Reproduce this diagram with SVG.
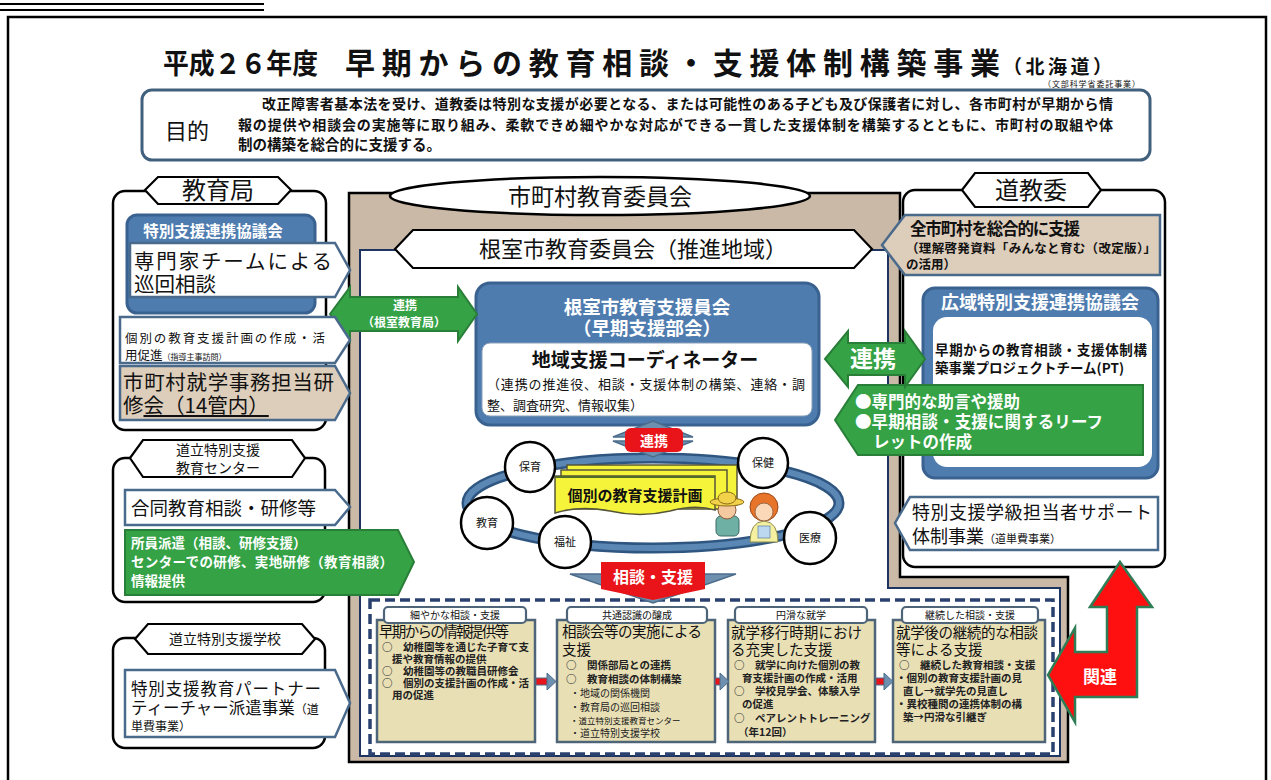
<svg xmlns="http://www.w3.org/2000/svg" width="1271" height="780" viewBox="0 0 1271 780">
<defs>
<style>
text { font-family: "Noto Sans CJK JP", "Noto Sans", sans-serif; fill: #111; }
.b { font-weight: 700; }
.w { fill: #fff; }
.c { text-anchor: middle; }
.box { fill: #fff; stroke: #000; stroke-width: 2.5; }
.tab { fill: #fff; stroke: #000; stroke-width: 2.2; }
.pent { fill: #fff; stroke: #4a6a8c; stroke-width: 2.5; }
.pent-tan { fill: #ddcdbb; stroke: #4a6a8c; stroke-width: 2.5; }
.blue { fill: #4f7caf; stroke: #3a6290; stroke-width: 3; }
.green { fill: #35a246; stroke: #2a7f38; stroke-width: 2; }
.circ { fill: #fff; stroke: #000; stroke-width: 2.5; }
.step { fill: #e8dfb5; stroke: #4d6479; stroke-width: 2.5; }
.steptab { fill: #fff; stroke: #4d6479; stroke-width: 2.2; }
.doc { fill: #f6f43a; stroke: #55553a; stroke-width: 1.5; }
.item { font-size: 10.5px; font-weight: 700; fill: #222; }
.sub { font-size: 10px; fill: #222; }
.steel { fill: #6e8fae; stroke: #4d6d8c; stroke-width: 1.5; }
.red { fill: #e8141a; }
</style>
</defs>

<!-- page frame -->
<g id="page">
  <rect x="0" y="0" width="1271" height="780" fill="#fff"/>
  <line x1="0" y1="4" x2="264" y2="4" stroke="#000" stroke-width="2"/>
  <line x1="0" y1="10" x2="264" y2="10" stroke="#000" stroke-width="2"/>
  <rect x="8" y="17" width="1258" height="790" fill="none" stroke="#000" stroke-width="2.5"/>
</g>

<!-- heading -->
<g id="title">
  <text x="163" y="74" class="b" font-size="28" textLength="155" lengthAdjust="spacingAndGlyphs">平成２６年度</text>
  <text x="345" y="74" class="b" font-size="30" textLength="655" lengthAdjust="spacing">早期からの教育相談・支援体制構築事業</text>
  <text x="1003" y="74" class="b" font-size="19" textLength="109" lengthAdjust="spacing">（北海道）</text>
  <text x="1043" y="87" font-size="8" textLength="97" lengthAdjust="spacing">（文部科学省委託事業）</text>
</g>

<!-- purpose -->
<g id="purpose">
  <rect x="142" y="90" width="1008" height="70" rx="10" fill="#fff" stroke="#41607e" stroke-width="3"/>
  <text x="165" y="139" font-size="22">目的</text>
  <text x="262" y="109" class="b" font-size="14" textLength="851" lengthAdjust="spacing">改正障害者基本法を受け、道教委は特別な支援が必要となる、または可能性のある子ども及び保護者に対し、各市町村が早期から情</text>
  <text x="238" y="130" class="b" font-size="14" textLength="875" lengthAdjust="spacing">報の提供や相談会の実施等に取り組み、柔軟できめ細やかな対応ができる一貫した支援体制を構築するとともに、市町村の取組や体</text>
  <text x="238" y="150" class="b" font-size="14.5">制の構築を総合的に支援する。</text>
</g>

<!-- municipal boards of education (centre frame) -->
<g id="municipal-board">
  <path d="M349,193 H900 V577 H1068 V762 H349 Z" fill="#c9b9a6" stroke="#000" stroke-width="2.5"/>
  <path d="M360,250 H888 V588 H1060 V756 H360 Z" fill="#fff" stroke="#1d3560" stroke-width="2"/>
  <ellipse cx="600" cy="196" rx="210" ry="19" fill="#fff" stroke="#000" stroke-width="2.5"/>
  <text x="600" y="205" class="c" font-size="23">市町村教育委員会</text>
  <polygon points="395,249 413,230 854,230 872,249 854,268 413,268" class="tab"/>
  <text x="633" y="257" class="c" font-size="22">根室市教育委員会（推進地域）</text>
</g>

<!-- Nemuro support committee -->
<g id="nemuro-committee">
  <rect x="476" y="283" width="343" height="142" rx="14" class="blue"/>
  <text x="647" y="314" class="c b w" font-size="18.5">根室市教育支援員会</text>
  <text x="647" y="335" class="c b w" font-size="18.5">（早期支援部会）</text>
  <rect x="482" y="343" width="330" height="73" rx="8" fill="#fff" stroke="#8aa0b8" stroke-width="1"/>
  <text x="645" y="367" class="c b" font-size="19">地域支援コーディネーター</text>
  <text x="487" y="389" font-size="13" textLength="318" lengthAdjust="spacing">（連携の推進役、相談・支援体制の構築、連絡・調</text>
  <text x="487" y="410" font-size="13">整、調査研究、情報収集）</text>
</g>

<!-- network around the individual plan -->
<g id="support-network">
  <ellipse cx="653" cy="503" rx="186" ry="45" fill="none" stroke="#2f5680" stroke-width="11"/>
  <ellipse cx="653" cy="503" rx="186" ry="45" fill="none" stroke="#5b87b5" stroke-width="6"/>
  <rect x="567" y="465" width="170" height="40" class="doc"/>
  <rect x="561" y="470" width="166" height="39" class="doc"/>
  <path d="M555,476 H715 V510 Q695,504 670,511 Q640,518 610,511 Q580,505 555,513 Z" class="doc"/>
  <line x1="555" y1="477" x2="715" y2="477" stroke="#4f6a2a" stroke-width="2"/>
  <text x="635" y="501" class="c b" font-size="15">個別の教育支援計画</text>
  <circle cx="530" cy="467" r="25" class="circ"/>
  <text x="530" y="471" class="c" font-size="11">保育</text>
  <circle cx="763" cy="463" r="25" class="circ"/>
  <text x="763" y="467" class="c" font-size="11">保健</text>
  <circle cx="487" cy="523" r="26" class="circ"/>
  <text x="487" y="527" class="c" font-size="11">教育</text>
  <circle cx="565" cy="542" r="26" class="circ"/>
  <text x="565" y="546" class="c" font-size="11">福祉</text>
  <circle cx="810" cy="538" r="26" class="circ"/>
  <text x="810" y="542" class="c" font-size="11">医療</text>
  <!-- child -->
  <rect x="716" y="516" width="23" height="20" rx="5" fill="#6fb0a4" stroke="#3d6b66" stroke-width="1"/>
  <circle cx="727" cy="510" r="9" fill="#f5c9a0" stroke="#8a5a3a" stroke-width="1"/>
  <ellipse cx="727" cy="502" rx="17" ry="4" fill="#f2d24a" stroke="#8a6a1a" stroke-width="1"/>
  <ellipse cx="727" cy="498" rx="9" ry="6" fill="#f2d24a" stroke="#8a6a1a" stroke-width="1"/>
  <!-- carer -->
  <circle cx="764" cy="507" r="14" fill="#e8742a" stroke="#9a4a1a" stroke-width="1"/>
  <path d="M750,542 Q750,522 764,521 Q778,522 778,542 Z" fill="#f4f0a0" stroke="#8a8a4a" stroke-width="1"/>
  <rect x="758" y="526" width="12" height="12" fill="#bcd8f0" stroke="#6a8aa8" stroke-width="0.8"/>
  <circle cx="764" cy="512" r="9" fill="#fbd8b8" stroke="#9a6a4a" stroke-width="1"/>
</g>

<!-- flow of support stages -->
<g id="support-stages">
  <rect x="370" y="600" width="683" height="154" fill="none" stroke="#2a4170" stroke-width="3.5" stroke-dasharray="10 5"/>

  <rect x="377" y="620" width="158" height="122" class="step"/>
  <rect x="384" y="607" width="142" height="16" rx="4" class="steptab"/>
  <text x="455" y="619" class="c" font-size="10">細やかな相談・支援</text>
  <text x="379" y="637" font-size="14.5" textLength="130" lengthAdjust="spacing">早期からの情報提供等</text>
  <text x="382" y="651" class="item">○　幼稚園等を通じた子育て支</text>
  <text x="392" y="663" class="item">援や教育情報の提供</text>
  <text x="382" y="675" class="item">○　幼稚園等の教職員研修会</text>
  <text x="382" y="687" class="item">○　個別の支援計画の作成・活</text>
  <text x="392" y="699" class="item">用の促進</text>

  <rect x="557" y="620" width="158" height="122" class="step"/>
  <rect x="567" y="607" width="140" height="16" rx="4" class="steptab"/>
  <text x="637" y="619" class="c" font-size="10">共通認識の醸成</text>
  <text x="562" y="637" font-size="14.5" textLength="140" lengthAdjust="spacing">相談会等の実施による</text>
  <text x="562" y="655" font-size="14.5">支援</text>
  <text x="566" y="669" class="item">○　関係部局との連携</text>
  <text x="566" y="683" class="item">○　教育相談の体制構築</text>
  <text x="570" y="697" class="sub">・地域の関係機関</text>
  <text x="570" y="711" class="sub">・教育局の巡回相談</text>
  <text x="570" y="724" font-size="8.5" fill="#222">・道立特別支援教育センター</text>
  <text x="570" y="737" class="sub">・道立特別支援学校</text>

  <rect x="728" y="620" width="147" height="122" class="step"/>
  <rect x="735" y="607" width="132" height="16" rx="4" class="steptab"/>
  <text x="801" y="619" class="c" font-size="10">円滑な就学</text>
  <text x="731" y="638" font-size="14.5" textLength="131" lengthAdjust="spacing">就学移行時期におけ</text>
  <text x="731" y="655" font-size="14.5">る充実した支援</text>
  <text x="734" y="669" class="item">○　就学に向けた個別の教</text>
  <text x="742" y="682" class="item">育支援計画の作成・活用</text>
  <text x="734" y="695" class="item">○　学校見学会、体験入学</text>
  <text x="742" y="708" class="item">の促進</text>
  <text x="734" y="722" class="item">○　ペアレントトレーニング</text>
  <text x="738" y="736" class="item">（年12回）</text>

  <rect x="893" y="620" width="152" height="122" class="step"/>
  <rect x="902" y="607" width="136" height="16" rx="4" class="steptab"/>
  <text x="970" y="619" class="c" font-size="10">継続した相談・支援</text>
  <text x="896" y="638" font-size="14.5" textLength="142" lengthAdjust="spacing">就学後の継続的な相談</text>
  <text x="896" y="655" font-size="14.5">等による支援</text>
  <text x="899" y="669" class="item">○　継続した教育相談・支援</text>
  <text x="896" y="682" class="item">・個別の教育支援計画の見</text>
  <text x="903" y="695" class="item">直し→就学先の見直し</text>
  <text x="896" y="708" class="item">・異校種間の連携体制の構</text>
  <text x="903" y="721" class="item">築→円滑な引継ぎ</text>
</g>

<!-- prefectural board of education -->
<g id="prefectural-board">
  <rect x="903" y="190" width="262" height="377" rx="12" class="box"/>
  <polygon points="962,190 975,173 1088,173 1101,190 1088,207 975,207" class="tab"/>
  <text x="1031" y="199" class="c" font-size="24">道教委</text>
  <polygon points="882,245 905,215 1160,215 1160,275 905,275" class="pent-tan"/>
  <text x="910" y="235" class="b" font-size="16.5" textLength="170" lengthAdjust="spacing">全市町村を総合的に支援</text>
  <text x="906" y="253" class="b" font-size="12.5" textLength="250" lengthAdjust="spacing">（理解啓発資料「みんなと育む（改定版）」</text>
  <text x="906" y="269" class="b" font-size="12.5">の活用）</text>
  <rect x="923" y="288" width="235" height="190" rx="12" class="blue"/>
  <text x="1040" y="309" class="c b w" font-size="18">広域特別支援連携協議会</text>
  <rect x="933" y="317" width="219" height="150" rx="14" fill="#fff"/>
  <text x="935" y="355" class="b" font-size="13.5" textLength="212" lengthAdjust="spacing">早期からの教育相談・支援体制構</text>
  <text x="935" y="373" class="b" font-size="13.5">築事業プロジェクトチーム(PT)</text>
  <polygon points="895,523 910,497 1158,497 1158,550 910,550" class="pent"/>
  <text x="912" y="519" font-size="18" textLength="240" lengthAdjust="spacing">特別支援学級担当者サポート</text>
  <text x="912" y="543" font-size="18">体制事業<tspan font-size="11">（道単費事業）</tspan></text>
</g>

<!-- advice from the project team -->
<g id="pt-advice">
  <polygon points="835,420 858,385 1143,385 1143,455 858,455" class="green"/>
  <text x="855" y="408" class="b w" font-size="16.5">●専門的な助言や援助</text>
  <text x="855" y="428" class="b w" font-size="16.5" textLength="248" lengthAdjust="spacing">●早期相談・支援に関するリーフ</text>
  <text x="873" y="448" class="b w" font-size="16.5">レットの作成</text>
</g>

<!-- connectors -->
<g id="connectors">
  <polygon points="330,314 350,287 350,297 458,297 458,287 477,314 458,341 458,331 350,331 350,341" class="green"/>
  <text x="405" y="310" class="c b w" font-size="12">連携</text>
  <text x="404" y="327" class="c b w" font-size="12">（根室教育局）</text>

  <polygon points="825,359 848,331 848,343 905,343 905,331 925,359 905,387 905,375 848,375 848,387" class="green"/>
  <text x="873" y="367" class="c b w" font-size="23">連携</text>

  <polygon points="613,437 653,421 693,437" class="steel"/>
  <polygon points="613,441 653,457 693,441" class="steel"/>
  <rect x="625" y="428" width="58" height="24" rx="6" class="red"/>
  <text x="654" y="446" class="c b w" font-size="14">連携</text>

  <polygon points="570,574 736,574 653,603" class="steel"/>
  <polygon points="601,562 705,562 705,589 653,600 601,589" class="red"/>
  <text x="653" y="583" class="c b w" font-size="16">相談・支援</text>

  <g stroke="#4d6d8c" stroke-width="1">
    <rect x="536" y="678" width="12" height="7" class="red"/>
    <polygon points="547,673 556,681.5 547,690" fill="#6e8fae"/>
    <rect x="715" y="678" width="6" height="7" class="red"/>
    <polygon points="720,673 729,681.5 720,690" fill="#6e8fae"/>
    <rect x="876" y="678" width="9" height="7" class="red"/>
    <polygon points="884,673 893,681.5 884,690" fill="#6e8fae"/>
  </g>

  <polygon points="1120,562 1152,607 1137,607 1137,697 1075,697 1075,722 1048,675 1075,628 1075,652 1107,652 1107,607 1090,607" fill="#ff1010" stroke="#2e7d55" stroke-width="2.5"/>
  <text x="1100" y="683" class="c b w" font-size="17">関連</text>
</g>

<!-- district education bureau -->
<g id="education-bureau">
  <rect x="113" y="191" width="213" height="239" rx="12" class="box"/>
  <polygon points="145,190 158,177 278,177 291,190 278,204 158,204" class="tab"/>
  <text x="218" y="199" class="c" font-size="24">教育局</text>
  <rect x="127" y="215" width="188" height="98" rx="10" class="blue"/>
  <text x="213" y="237" class="c b w" font-size="15.5">特別支援連携協議会</text>
  <polygon points="130,243 335,243 350,270 335,297 130,297" class="pent"/>
  <text x="134" y="269" font-size="20.5" textLength="198" lengthAdjust="spacing">専門家チームによる</text>
  <text x="134" y="292" font-size="20.5">巡回相談</text>
  <polygon points="120,317 335,317 350,340 335,363 120,363" class="pent"/>
  <text x="125" y="343" font-size="12.5" textLength="200" lengthAdjust="spacing">個別の教育支援計画の作成・活</text>
  <text x="125" y="360" font-size="12.5">用促進<tspan font-size="8">（指導主事訪問）</tspan></text>
  <polygon points="120,366 335,366 350,393 335,420 120,420" class="pent-tan"/>
  <text x="123" y="390" font-size="20.5" textLength="211" lengthAdjust="spacing">市町村就学事務担当研</text>
  <text x="123" y="413" font-size="20.5">修<tspan text-decoration="underline">会（14管内）</tspan></text>
</g>

<!-- prefectural special support education centre -->
<g id="support-centre">
  <rect x="113" y="458" width="212" height="144" rx="12" class="box"/>
  <polygon points="130,458 143,440 292,440 305,458 292,477 143,477" class="tab"/>
  <text x="218" y="455" class="c" font-size="14">道立特別支援</text>
  <text x="218" y="473" class="c" font-size="14">教育センター</text>
  <polygon points="125,490 335,490 350,507 335,525 125,525" class="pent"/>
  <text x="131" y="515" font-size="18.5">合同教育相談・研修等</text>
  <polygon points="125,530 398,530 414,562 398,595 125,595" class="green"/>
  <text x="131" y="548" class="b w" font-size="13.5">所員派遣（相談、研修支援）</text>
  <text x="131" y="567" class="b w" font-size="13.5" textLength="262" lengthAdjust="spacing">センターでの研修、実地研修（教育相談）</text>
  <text x="131" y="586" class="b w" font-size="13.5">情報提供</text>
</g>

<!-- prefectural special support schools -->
<g id="support-schools">
  <rect x="113" y="638" width="212" height="110" rx="12" class="box"/>
  <polygon points="135,639 148,624 302,624 315,639 302,654 148,654" class="tab"/>
  <text x="225" y="644" class="c" font-size="14">道立特別支援学校</text>
  <polygon points="125,670 335,670 350,703 335,737 125,737" class="pent"/>
  <text x="131" y="695" font-size="16.5" textLength="190" lengthAdjust="spacing">特別支援教育パートナー</text>
  <text x="131" y="714" font-size="16.5">ティーチャー派遣事業<tspan font-size="12">（道</tspan></text>
  <text x="131" y="731" font-size="12">単費事業）</text>
</g>
</svg>
